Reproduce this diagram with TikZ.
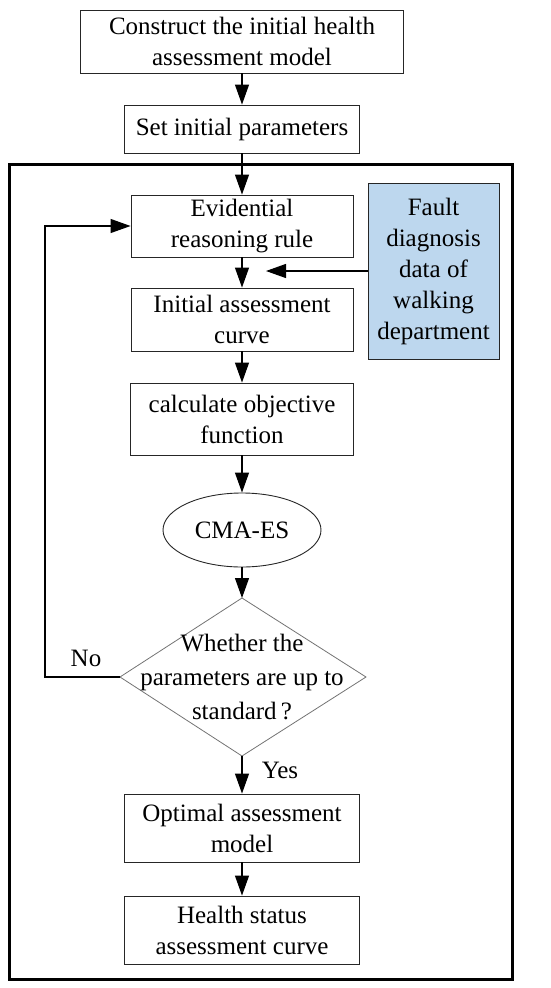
\documentclass[tikz,border=0pt]{standalone}
\usepackage{fontspec}
\setmainfont{Liberation Serif}
\usetikzlibrary{arrows.meta,shapes.geometric}
\definecolor{bluefill}{HTML}{BDD7EE}
\tikzset{
  box/.style={draw=black!85,line width=0.9pt,rectangle,inner sep=0pt,align=center,font=\fontsize{25}{31}\selectfont},
  arr/.style={-{Triangle[length=20pt,width=14pt]},line width=1.2pt},
  lbl/.style={font=\fontsize{25}{31}\selectfont,inner sep=0pt}
}
\begin{document}
\begin{tikzpicture}[x=1pt,y=-1pt]
\useasboundingbox (0,0) rectangle (550,988);
\draw[line width=3pt] (9,164) rectangle (512,979);
\node[box,minimum width=323pt,minimum height=63pt] (b1) at (242,41.5) {Construct the initial health\\assessment model};
\node[box,minimum width=235pt,minimum height=48pt] (b2) at (242,129) {Set initial parameters};
\node[box,minimum width=222pt,minimum height=62pt] (ev) at (242,226) {Evidential\\reasoning rule};
\node[box,minimum width=222pt,minimum height=63pt] (init) at (242,319.5) {Initial assessment\\curve};
\node[box,minimum width=223pt,minimum height=72pt] (calc) at (242,419) {calculate objective\\function};
\node[box,ellipse,minimum width=158pt,minimum height=74pt] (cma) at (242,530) {CMA-ES};
\node[box,fill=bluefill,minimum width=131pt,minimum height=176pt] (blue) at (433.5,271) {Fault\\diagnosis\\data of\\walking\\department};
\coordinate (dT) at (242,598);
\coordinate (dB) at (242,756);
\coordinate (dL) at (120,677);
\coordinate (dR) at (366,677);
\draw[black!55,line width=0.8pt] (dT) -- (dR) -- (dB) -- (dL) -- cycle;
\node[lbl,align=center,font=\fontsize{25}{34}\selectfont] (dia) at (242,677) {Whether the\\parameters are up to\\standard\,?};
\node[box,minimum width=235pt,minimum height=68pt] (opt) at (242,828) {Optimal assessment\\model};
\node[box,minimum width=235pt,minimum height=68pt] (hs) at (242,930) {Health status\\assessment curve};
\coordinate (tip) at (266,271);
\coordinate (lb) at (45,677);
\coordinate (lt) at (45,226);
\draw[arr] (b1.south) -- (b2.north);
\draw[arr] (b2.south) -- (ev.north);
\draw[arr] (ev.south) -- (init.north);
\draw[arr] (blue.west) -- (tip);
\draw[arr] (init.south) -- (calc.north);
\draw[arr] (calc.south) -- (cma.north);
\draw[arr] (cma.south) -- (dT);
\draw[arr] (dB) -- (opt.north);
\draw[arr] (opt.south) -- (hs.north);
\draw[arr] (dL) -- (lb) -- (lt) -- (ev.west);
\node[lbl] (no) at (86,658) {No};
\node[lbl] (yes) at (280,770) {Yes};
\end{tikzpicture}
\end{document}
